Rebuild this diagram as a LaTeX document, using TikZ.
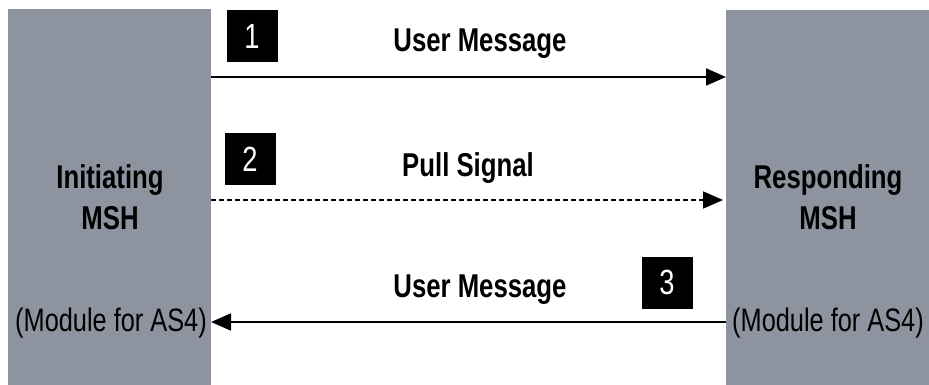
\documentclass[tikz,border=0pt]{standalone}
\usepackage{fontspec}
\setmainfont{Liberation Sans}
\newfontfamily\narrowfont[FakeStretch=0.78]{Liberation Sans}
\usetikzlibrary{arrows.meta}
\definecolor{colgray}{RGB}{141,148,160}
\begin{document}
\begin{tikzpicture}[x=1pt,y=-1pt,
  column/.style={draw=none,fill=colgray,minimum width=203pt,minimum height=376pt,inner sep=0pt,anchor=north west},
  lab/.style={font=\narrowfont\bfseries\fontsize{33}{40}\selectfont,anchor=base,inner sep=0pt},
  hostlab/.style={font=\narrowfont\bfseries\fontsize{33}{41}\selectfont,align=center,inner sep=0pt,anchor=base},
  modlab/.style={font=\narrowfont\fontsize{32.5}{38}\selectfont,anchor=base,inner sep=0pt},
  numbox/.style={fill=black,text=white,minimum width=51pt,minimum height=52pt,inner sep=0pt,font=\narrowfont\fontsize{35}{38}\selectfont},
  msg/.style={line width=1.8pt,-{Triangle[length=20pt,width=17pt]}},
  msgdash/.style={msg,dash pattern=on 5pt off 3pt}
  ]
\useasboundingbox (0,0) rectangle (929,385);
\fill[white] (0,0) rectangle (929,385);
\node[column] (L) at (8,9) {};
\node[column] (R) at (726,10) {};
% host labels
\node[hostlab] (Lname) at (110,229) {Initiating\\MSH};
\node[hostlab] (Rname) at (828,229) {Responding\\MSH};
\node[modlab] (Lmod) at (111,331) {(Module for AS4)};
\node[modlab] (Rmod) at (828,331) {(Module for AS4)};
% coordinates for message lines
\coordinate (a1s) at (211,77);
\coordinate (a1e) at (726,77);
\coordinate (a2s) at (211,200);
\coordinate (a2e) at (723,200);
\coordinate (a3s) at (726,322);
\coordinate (a3e) at (211,322);
\draw[msg] (a1s) -- (a1e);
\draw[msgdash] (a2s) -- (a2e);
\draw[msg] (a3s) -- (a3e);
% message labels
\node[lab] (m1) at (480,52) {User Message};
\node[lab] (m2) at (468,176) {Pull Signal};
\node[lab] (m3) at (480,297) {User Message};
% step numbers
\node[numbox] (n1) at (252,36) {1};
\node[numbox] (n2) at (250,159) {2};
\node[numbox] (n3) at (667,282.5) {3};
\end{tikzpicture}
\end{document}
